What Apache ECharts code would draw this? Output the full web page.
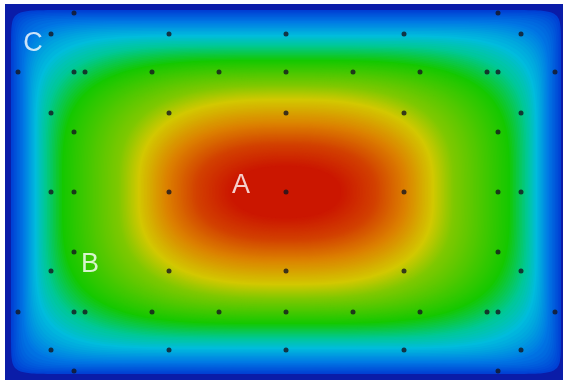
<!DOCTYPE html>
<html>
<head>
<meta charset="utf-8">
<script src="https://cdn.jsdelivr.net/npm/echarts@6/dist/echarts.min.js"></script>
<style>
  html, body {margin: 0; padding: 0; background: #fff;}
  #chart {width: 564px; height: 383px;}
</style>
</head>
<body>
<div id="chart"></div>
<script>
// contour levels of the field (centre = 0,0; units ~ px)
const levelValue = [0, 0.1, 0.2, 0.3, 0.4, 0.5, 0.6, 0.7, 0.8, 0.9, 0.97];
const levelHalfW = [281, 275, 263, 251, 242, 224, 168, 148, 121, 90, 55];
const levelHalfH = [188, 182, 171, 157, 147, 132, 107, 93, 69, 48, 26];
// how square each contour is (superellipse exponent)
const levelPower = [40, 30, 12, 6.5, 4.8, 3.8, 3.0, 2.8, 2.6, 2.4, 2.2];

// mesh nodes (black dots)
const dotX = [
  -212, 212,
  -235, -117, 0, 118, 235,
  -268, -212, -201, -134, -67, 0, 67, 134, 201, 212, 269,
  -235, -117, 0, 118, 235,
  -212, 212,
  -235, -212, -117, 0, 118, 212, 235,
  -212, 212,
  -235, -117, 0, 118, 235,
  -268, -212, -201, -134, -67, 0, 67, 134, 201, 212, 269,
  -235, -117, 0, 118, 235,
  -212, 212
];
const dotY = [
  179, 179,
  158, 158, 158, 158, 158,
  120, 120, 120, 120, 120, 120, 120, 120, 120, 120, 120,
  79, 79, 79, 79, 79,
  60, 60,
  0, 0, 0, 0, 0, 0, 0,
  -60, -60,
  -79, -79, -79, -79, -79,
  -120, -120, -120, -120, -120, -120, -120, -120, -120, -120, -120,
  -158, -158, -158, -158, -158,
  -179, -179
];

// point labels
const labelNames = ['A', 'B', 'C'];
const labelX = [-45, -196, -253];
const labelY = [6, -73, 148];

const jet = ['#0a1ca8', '#0040d4', '#0078e4', '#00bcdc', '#00c896', '#14c800',
  '#80c800', '#d2c800', '#dc8200', '#d24000', '#c80400'];
const colorOf = v => echarts.color.lerp(v, jet);

const chart = echarts.init(document.getElementById('chart'));

const levelData = levelValue.map((v, i) => [v, levelHalfW[i], levelHalfH[i], levelPower[i]]);

function contourPoints(api, a, b, p) {
  const pts = [];
  const N = 160;
  for (let k = 0; k < N; k++) {
    const th = k / N * Math.PI * 2;
    const c = Math.cos(th), s = Math.sin(th);
    const x = a * Math.sign(c) * Math.pow(Math.abs(c), 2 / p);
    const y = b * Math.sign(s) * Math.pow(Math.abs(s), 2 / p);
    pts.push(api.coord([x, y]));
  }
  return pts;
}

chart.setOption({
  animation: false,
  backgroundColor: '#fff',
  grid: {left: 5, top: 4, width: 558, height: 376},
  xAxis: {type: 'value', min: -281, max: 277, show: false},
  yAxis: {type: 'value', min: -188, max: 188, show: false},
  series: [
    {
      type: 'custom',
      clip: true,
      silent: true,
      data: levelData,
      encode: {x: 1, y: 2},
      renderItem(params, api) {
        const i = params.dataIndex;
        const n = levelValue.length;
        const c0 = colorOf(levelValue[i]);
        if (i === 0) {
          const tl = api.coord([-levelHalfW[0], levelHalfH[0]]);
          const br = api.coord([levelHalfW[0], -levelHalfH[0]]);
          return {type: 'rect', shape: {x: tl[0], y: tl[1], width: br[0] - tl[0], height: br[1] - tl[1]}, style: {fill: c0}};
        }
        if (i === n - 1) {
          return {
            type: 'polygon',
            shape: {points: contourPoints(api, levelHalfW[i], levelHalfH[i], levelPower[i])},
            style: {fill: c0}
          };
        }
        // shade between this contour and the next one in thin steps
        const c1 = colorOf(levelValue[i + 1]);
        const gap = Math.max(levelHalfW[i] - levelHalfW[i + 1], levelHalfH[i] - levelHalfH[i + 1]);
        const steps = Math.max(2, Math.ceil(gap / 1.5));
        const children = [];
        for (let k = 0; k < steps; k++) {
          const t = k / steps;
          const a = levelHalfW[i] + (levelHalfW[i + 1] - levelHalfW[i]) * t;
          const b = levelHalfH[i] + (levelHalfH[i + 1] - levelHalfH[i]) * t;
          const p = levelPower[i] + (levelPower[i + 1] - levelPower[i]) * t;
          children.push({
            type: 'polygon',
            shape: {points: contourPoints(api, a, b, p)},
            style: {fill: echarts.color.lerp(t, [c0, c1])}
          });
        }
        return {type: 'group', children: children};
      }
    },
    {
      type: 'scatter',
      symbolSize: 5,
      itemStyle: {color: '#15151f'},
      data: dotX.map((x, i) => [x, dotY[i]])
    },
    {
      type: 'scatter',
      symbolSize: 1,
      itemStyle: {color: 'rgba(0,0,0,0)'},
      label: {
        show: true,
        position: 'inside',
        formatter: '{b}',
        color: '#fff',
        fontSize: 27,
        fontFamily: 'Liberation Sans, Arial, sans-serif'
      },
      data: labelNames.map((n, i) => ({name: n, value: [labelX[i], labelY[i]]}))
    }
  ]
});
</script>
</body>
</html>
